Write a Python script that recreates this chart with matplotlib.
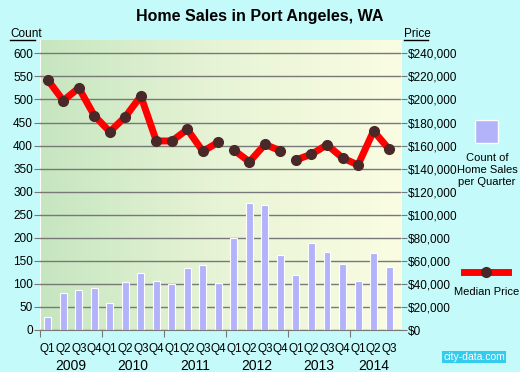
import numpy as np
import matplotlib
matplotlib.use('Agg')
import matplotlib.pyplot as plt
from matplotlib.colors import LinearSegmentedColormap

plt.rcParams['font.family'] = ['Liberation Sans', 'DejaVu Sans']

# data
quarters = ['Q1', 'Q2', 'Q3', 'Q4'] * 5 + ['Q1', 'Q2', 'Q3']
years = ['2009', '2010', '2011', '2012', '2013', '2014']
sales = [29, 80, 87, 92, 59, 104, 124, 107, 100, 135, 141, 102,
         200, 276, 272, 163, 120, 188, 170, 143, 106, 167, 137]
price = [217000, 199000, 210000, 186000, 172000, 185000, 203000, 164000,
         164000, 174000, 155000, 163000, 156000, 146000, 161000, 155500,
         147600, 152500, 160700, 149300, 143200, 172600, 156900]
line_breaks = [12, 16]  # line is not drawn across these points

bg = '#C4FAFA'
bar_col = '#B3B3FA'
grid_col = '#787878'

fig = plt.figure(figsize=(5.2, 3.72), dpi=100, facecolor=bg)
ax = fig.add_axes([40/520, 42/372, 361/520, 290/372])
n = len(sales)
x = np.arange(n)
xmin, xmax = -0.45, n - 1 + 0.77
ymax = 629

# gradient background
cmap = LinearSegmentedColormap.from_list('g', ['#C6E6C0', '#E8F4D6', '#FAFDE2'])
ax.imshow(np.linspace(0, 1, 256).reshape(1, -1), cmap=cmap, aspect='auto',
          extent=[xmin, xmax, 0, ymax], zorder=0)

for v in range(0, 601, 50):
    ax.axhline(v, color=grid_col, lw=1, zorder=1)

ax.bar(x, sales, width=0.45, color=bar_col, edgecolor='white', linewidth=0.8, zorder=2)
ax.set_xlim(xmin, xmax)
ax.set_ylim(0, ymax)
ax.set_yticks(range(0, 601, 50))
ax.tick_params(axis='y', length=4, color=grid_col, labelsize=8.5, pad=1)
ax.set_xticks([-0.5, 3.5, 7.5, 11.5, 15.5, 19.5])
ax.set_xticklabels([])
ax.tick_params(axis='x', length=5, color=grid_col)
for s in ['top', 'right', 'left']:
    ax.spines[s].set_visible(False)
ax.spines['bottom'].set_color(grid_col)

trans = ax.get_xaxis_transform()
for i, q in enumerate(quarters):
    ax.text(i, -0.045, q, transform=trans, ha='center', va='top', fontsize=8.5)
year_pos = [1.5, 5.5, 9.5, 13.5, 17.5, 21]
for p, yl in zip(year_pos, years):
    ax.text(p, -0.1, yl, transform=trans, ha='center', va='top', fontsize=10)

ax2 = ax.twinx()
ax2.set_ylim(0, ymax * 400)
ax2.set_yticks(range(0, 240001, 20000))
ax2.set_yticklabels(['$' + format(v, ',') for v in range(0, 240001, 20000)])
ax2.tick_params(axis='y', length=4, color=grid_col, labelsize=8.5, pad=1)
for s in ax2.spines.values():
    s.set_visible(False)

segs = np.split(np.arange(n), line_breaks)
for seg in segs:
    ax2.plot(seg, [price[i] for i in seg], color='#FF0000', lw=5,
             marker='o', ms=7, mfc='#4A2828', mec='#4A2828', zorder=3,
             solid_capstyle='butt')

fig.text(260/520, 1 - 16/372, 'Home Sales in Port Angeles, WA', ha='center', va='center',
         fontsize=11.5, fontweight='bold')
fig.text(10/520, 1 - 34/372, 'Count', fontsize=8.5, va='center')
fig.add_artist(plt.Line2D([10/520, 35/520], [1 - 40/372, 1 - 40/372], color='black', lw=1))
fig.text(404/520, 1 - 34/372, 'Price', fontsize=8.5, va='center')
fig.add_artist(plt.Line2D([404/520, 428/520], [1 - 40/372, 1 - 40/372], color='black', lw=1))

# legend
fig.patches.append(plt.Rectangle((475/520, 1 - 143/372), 23/520, 23/372,
                                 transform=fig.transFigure, facecolor=bar_col,
                                 edgecolor='white', lw=1))
fig.text(487/520, 1 - 170/372, 'Count of\nHome Sales\nper Quarter', ha='center',
         va='center', fontsize=8, linespacing=1.3)
fig.add_artist(plt.Line2D([464/520, 508/520], [1 - 272/372, 1 - 272/372],
                          color='#FF0000', lw=5))
fig.add_artist(plt.Line2D([486/520], [1 - 272/372], marker='o', ms=7,
                          mfc='#4A2828', mec='#4A2828'))
fig.text(487/520, 1 - 292/372, 'Median Price', ha='center', va='center', fontsize=8)
fig.text(505/520, 1 - 357/372, 'city-data.com', ha='right', va='center', fontsize=7.5,
         color='white', bbox=dict(facecolor='#33CCEE', edgecolor='none', pad=1))

fig.savefig('out.png', dpi=100, facecolor=bg)
